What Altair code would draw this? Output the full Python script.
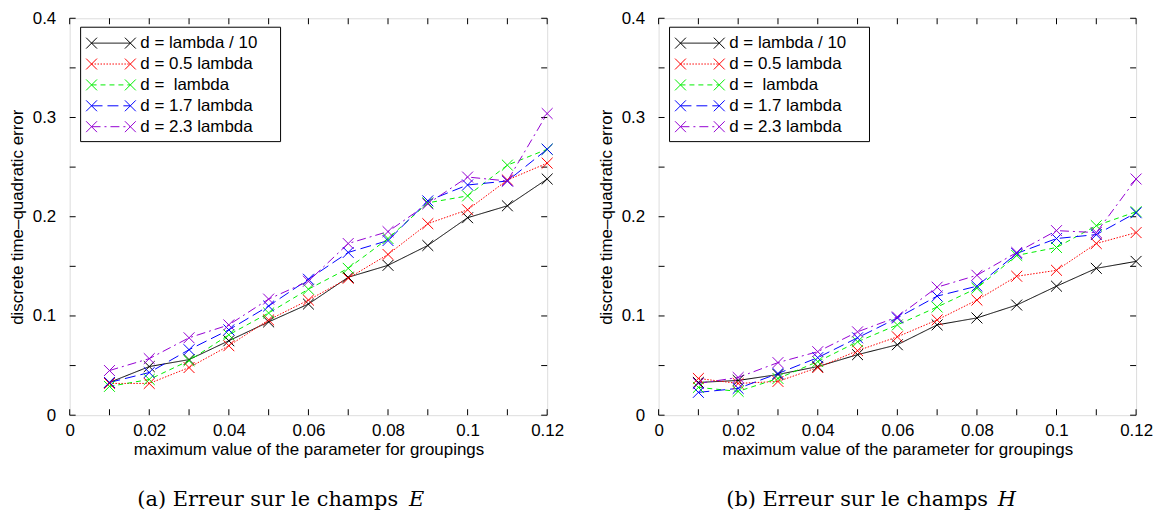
import altair as alt
import pandas as pd

# ---------------- data ----------------
x_vals = [0.01, 0.02, 0.03, 0.04, 0.05, 0.06, 0.07, 0.08, 0.09, 0.10, 0.11, 0.12]

series_keys = ["s1", "s2", "s3", "s4", "s5"]
series_labels = ["d = lambda / 10", "d = 0.5 lambda", "d =\u00a0 lambda", "d = 1.7 lambda", "d = 2.3 lambda"]
series_colors = ["#000000", "#ff0000", "#00ee00", "#0000ff", "#9400d3"]
series_dashes = [[1, 0], [1.5, 1.5], [5, 4], [11, 5], [9, 4, 2, 4]]

# Panel (a): field E
E_s1 = [0.033, 0.049, 0.056, 0.075, 0.094, 0.112, 0.139, 0.151, 0.171, 0.199, 0.211, 0.238]
E_s2 = [0.032, 0.032, 0.048, 0.070, 0.096, 0.116, 0.138, 0.162, 0.193, 0.207, 0.237, 0.254]
E_s3 = [0.029, 0.036, 0.055, 0.081, 0.103, 0.127, 0.148, 0.178, 0.214, 0.221, 0.252, 0.268]
E_s4 = [0.033, 0.043, 0.066, 0.086, 0.110, 0.137, 0.164, 0.176, 0.216, 0.232, 0.236, 0.268]
E_s5 = [0.045, 0.057, 0.078, 0.091, 0.117, 0.135, 0.173, 0.185, 0.213, 0.240, 0.236, 0.304]

# Panel (b): field H
H_s1 = [0.033, 0.035, 0.041, 0.049, 0.061, 0.071, 0.091, 0.098, 0.111, 0.130, 0.148, 0.155]
H_s2 = [0.037, 0.032, 0.034, 0.048, 0.065, 0.079, 0.096, 0.116, 0.140, 0.146, 0.173, 0.184]
H_s3 = [0.028, 0.024, 0.037, 0.054, 0.074, 0.091, 0.109, 0.128, 0.161, 0.169, 0.191, 0.205]
H_s4 = [0.023, 0.027, 0.042, 0.058, 0.078, 0.098, 0.120, 0.130, 0.163, 0.178, 0.182, 0.204]
H_s5 = [0.032, 0.038, 0.053, 0.064, 0.084, 0.099, 0.129, 0.141, 0.164, 0.186, 0.184, 0.238]

x_tick_labels = [0, 0.02, 0.04, 0.06, 0.08, 0.10, 0.12]
y_tick_labels = [0, 0.1, 0.2, 0.3, 0.4]
x_minor_ticks = [0, 0.01, 0.02, 0.03, 0.04, 0.05, 0.06, 0.07, 0.08, 0.09, 0.10, 0.11, 0.12]
y_minor_ticks = [0, 0.05, 0.1, 0.15, 0.2, 0.25, 0.3, 0.35, 0.4]

x_title = "maximum value of the parameter for groupings"
y_title = "discrete time\u2013quadratic error"

# ---------------- style ----------------
W, H = 480, 399
FONT = "Liberation Sans"
CAPFONT = "DejaVu Serif"
XSHAPE = "M-1,-1L1,1M-1,1L1,-1"
TICK = 6
FS = 17

color_scale = alt.Scale(domain=series_keys, range=series_colors)
dash_scale = alt.Scale(domain=series_keys, range=series_dashes)


def x_enc(field="x"):
    return alt.X(f"{field}:Q",
                 scale=alt.Scale(domain=[0, 0.12], nice=False, zero=False),
                 axis=alt.Axis(values=x_tick_labels, title=x_title, labelExpr="format(datum.value, '~g')",
                               ticks=False, domain=False, grid=False, labelPadding=7,
                               titlePadding=4, labelFontSize=FS, titleFontSize=FS,
                               labelFont=FONT, titleFont=FONT, titleFontWeight="normal",
                               labelColor="black", titleColor="black", labelFlush=False))


def y_enc(field="y"):
    return alt.Y(f"{field}:Q",
                 scale=alt.Scale(domain=[0, 0.4], nice=False, zero=False),
                 axis=alt.Axis(values=y_tick_labels, title=y_title, labelExpr="format(datum.value, '~g')",
                               ticks=False, domain=False, grid=False, labelPadding=14,
                               titlePadding=6, labelFontSize=FS, titleFontSize=FS,
                               labelFont=FONT, titleFont=FONT, titleFontWeight="normal",
                               labelColor="black", titleColor="black", labelFlush=False))


def make_panel(values, cap_main, cap_var, cap_var_dx):
    rows = []
    for key, ys in zip(series_keys, values):
        for xv, yv in zip(x_vals, ys):
            rows.append({"x": xv, "y": yv, "series": key})
    df = pd.DataFrame(rows)

    col = alt.Color("series:N", scale=color_scale, legend=None)
    dash = alt.StrokeDash("series:N", scale=dash_scale, legend=None)

    lines = alt.Chart(df).mark_line(strokeWidth=1).encode(x=x_enc(), y=y_enc(), color=col, strokeDash=dash)
    pts = alt.Chart(df).mark_point(shape=XSHAPE, size=120, filled=False, strokeWidth=1, opacity=1).encode(
        x=x_enc(), y=y_enc(), color=col)

    ydf = pd.DataFrame({"y": y_minor_ticks})
    xdf = pd.DataFrame({"x": x_minor_ticks})
    tick_l = alt.Chart(ydf).mark_rule(color="black", strokeWidth=1).encode(
        y=y_enc(), x=alt.value(0), x2=alt.value(TICK))
    tick_r = alt.Chart(ydf).mark_rule(color="black", strokeWidth=1).encode(
        y=y_enc(), x=alt.value(W - TICK), x2=alt.value(W))
    tick_b = alt.Chart(xdf).mark_rule(color="black", strokeWidth=1).encode(
        x=x_enc(), y=alt.value(H), y2=alt.value(H - TICK))
    tick_t = alt.Chart(xdf).mark_rule(color="black", strokeWidth=1).encode(
        x=x_enc(), y=alt.value(0), y2=alt.value(TICK))

    main = alt.layer(tick_l, tick_r, tick_b, tick_t, lines, pts)

    # legend box (inside plot, top-left)
    one = pd.DataFrame({"k": [0]})
    box = alt.Chart(one).mark_rect(fill="white", stroke="black", strokeWidth=1).encode(
        x=alt.value(11), x2=alt.value(212), y=alt.value(9), y2=alt.value(124))
    ldf = pd.DataFrame({"series": series_keys, "label": series_labels, "row": list(range(len(series_keys)))})
    ly = alt.Y("row:Q", scale=alt.Scale(domain=[0, 4], range=[25, 109]), axis=None)
    lrule = alt.Chart(ldf).mark_rule(strokeWidth=1).encode(
        y=ly, x=alt.value(22), x2=alt.value(61), color=col, strokeDash=dash)
    lp1 = alt.Chart(ldf).mark_point(shape=XSHAPE, size=120, filled=False, strokeWidth=1, opacity=1).encode(
        y=ly, x=alt.value(22), color=col)
    lp2 = alt.Chart(ldf).mark_point(shape=XSHAPE, size=120, filled=False, strokeWidth=1, opacity=1).encode(
        y=ly, x=alt.value(61), color=col)
    ltxt = alt.Chart(ldf).mark_text(align="left", baseline="middle", fontSize=17, font=FONT, color="black").encode(
        y=ly, x=alt.value(71), text="label:N")
    legend = alt.layer(lrule, lp1, lp2, ltxt)

    cdf = pd.DataFrame({"main": [cap_main], "var": [cap_var]})
    cap1 = alt.Chart(cdf).mark_text(align="left", baseline="middle", fontSize=21, font=CAPFONT,
                                    color="black").encode(x=alt.value(68), y=alt.value(484), text="main:N")
    cap2 = alt.Chart(cdf).mark_text(align="left", baseline="middle", fontSize=21, font=CAPFONT,
                                    fontStyle="italic", color="black").encode(
        x=alt.value(cap_var_dx), y=alt.value(484), text="var:N")

    return alt.layer(main, box, legend, cap1, cap2).resolve_scale(y="independent").properties(width=W, height=H)


left = make_panel([E_s1, E_s2, E_s3, E_s4, E_s5], "(a) Erreur sur le champs", "E", 341)
right = make_panel([H_s1, H_s2, H_s3, H_s4, H_s5], "(b) Erreur sur le champs", "H", 341)

chart = alt.hconcat(left, right, spacing=112, bounds="flush").properties(
    padding={"left": -1, "top": -1, "right": 0, "bottom": 0}
).configure_view(stroke="black", strokeWidth=1).configure(background="white")

chart.save("out.html", embed_options={"renderer": "svg", "actions": False})
